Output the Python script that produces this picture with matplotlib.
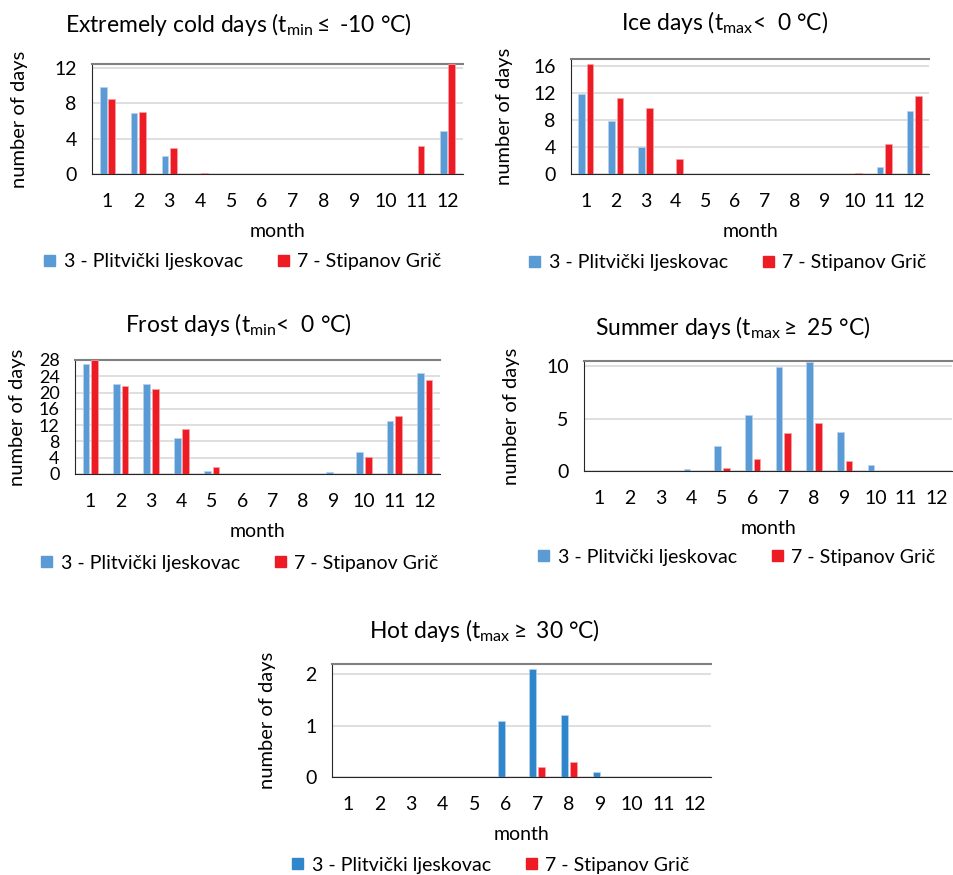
import matplotlib
matplotlib.use("Agg")
import matplotlib.pyplot as plt
import numpy as np

plt.rcParams['font.family'] = ['Lato', 'DejaVu Sans']
plt.rcParams['mathtext.fontset'] = 'custom'
plt.rcParams['mathtext.rm'] = 'Lato'
plt.rcParams['mathtext.it'] = 'Lato:italic'

months = list(range(1, 13))
station_a = "3 - Plitvički ljeskovac"
station_b = "7 - Stipanov Grič"

cold_plit = [9.8, 6.9, 2.0, 0, 0, 0, 0, 0, 0, 0, 0.05, 4.9]
cold_stip = [8.5, 7.0, 2.9, 0.1, 0, 0, 0, 0, 0, 0, 3.2, 12.4]
ice_plit = [11.9, 7.8, 4.0, 0, 0, 0, 0, 0, 0, 0, 1.1, 9.3]
ice_stip = [16.3, 11.2, 9.8, 2.2, 0, 0, 0, 0, 0, 0.2, 4.5, 11.6]
frost_plit = [27.0, 22.1, 22.0, 8.9, 0.8, 0, 0, 0, 0.4, 5.5, 13.0, 24.8]
frost_stip = [28.0, 21.7, 21.0, 11.1, 1.7, 0, 0, 0, 0, 4.2, 14.3, 23.2]
summer_plit = [0, 0, 0, 0.15, 2.4, 5.3, 9.9, 10.4, 3.7, 0.55, 0, 0]
summer_stip = [0, 0, 0, 0, 0.25, 1.1, 3.6, 4.6, 1.0, 0, 0, 0]
hot_plit = [0, 0, 0, 0, 0, 1.1, 2.1, 1.2, 0.1, 0, 0, 0]
hot_stip = [0, 0, 0, 0, 0, 0, 0.2, 0.3, 0, 0, 0, 0]

BLUE = '#5B9BD5'
BLUE_HOT = '#2F86CA'
RED = '#ED1C24'

W, H = 954, 875
fig = plt.figure(figsize=(W / 100, H / 100), dpi=100)


def px_axes(left, right, top, bottom):
    return fig.add_axes([left / W, 1 - bottom / H, (right - left) / W, (bottom - top) / H])


def panel(box, plit, stip, yticks, ymax, title, title_xy, ylab_x, legend_xy,
          blue=BLUE, xmax=12.5, ysize=14):
    ax = px_axes(*box)
    x = np.array(months)
    ax.bar(x - 0.14, plit, width=0.22, color=blue, edgecolor='#BBD3EE', linewidth=0.5, zorder=3)
    ax.bar(x + 0.14, stip, width=0.22, color=RED, edgecolor='#F6A5A8', linewidth=0.5, zorder=3)
    ax.set_xlim(0.5, xmax)
    ax.set_ylim(0, ymax)
    ax.set_yticks(yticks)
    ax.set_xticks(months)
    ax.tick_params(length=0, labelsize=14)
    ax.tick_params(axis='x', pad=14)
    ax.tick_params(axis='y', pad=11, labelsize=ysize)
    ax.yaxis.grid(True, color='#D9D9D9', linewidth=1.2, zorder=0)
    ax.set_axisbelow(True)
    ax.spines['right'].set_visible(False)
    ax.spines['top'].set_color('#808080')
    ax.spines['top'].set_linewidth(1.5)
    ax.spines['left'].set_color('#262626')
    ax.spines['bottom'].set_color('#262626')
    ax.set_xlabel('month', fontsize=14, labelpad=9)
    fig.text(ylab_x / W, 1 - (box[2] + box[3]) / 2 / H, 'number of days', rotation=90,
             ha='center', va='center', fontsize=14.5)
    fig.text(title_xy[0] / W, 1 - title_xy[1] / H, title, ha='center', va='center', fontsize=16.5)
    h1 = plt.Rectangle((0, 0), 1, 1, color=blue)
    h2 = plt.Rectangle((0, 0), 1, 1, color=RED)
    ax.legend([h1, h2], [station_a, station_b], ncol=2, loc='center',
              bbox_to_anchor=(legend_xy[0] / W, 1 - legend_xy[1] / H), bbox_transform=fig.transFigure,
              frameon=False, fontsize=14, handlelength=0.55, handleheight=0.55,
              handletextpad=0.45, columnspacing=1.8)
    return ax


panel((92, 463, 64, 174), cold_plit, cold_stip, [0, 4, 8, 12], 12.45,
      r'Extremely cold days (t$_{\mathrm{min}}$$\leq$ -10 °C)', (238, 25), 20, (243, 262))
panel((571, 929, 59, 174), ice_plit, ice_stip, [0, 4, 8, 12, 16], 17,
      r'Ice days (t$_{\mathrm{max}}$<  0 °C)', (725, 22), 505, (728, 263))
panel((75, 440, 360, 474), frost_plit, frost_stip, list(range(0, 29, 4)), 28,
      r'Frost days (t$_{\mathrm{min}}$<  0 °C)', (238, 325), 18, (240, 563), ysize=13)
panel((584, 952, 361, 471), summer_plit, summer_stip, [0, 5, 10], 10.5,
      r'Summer days (t$_{\mathrm{max}}$$\geq$ 25 °C)', (733, 328), 512, (737, 557))
panel((332, 711, 664, 777), hot_plit, hot_stip, [0, 1, 2], 2.2,
      r'Hot days (t$_{\mathrm{max}}$$\geq$ 30 °C)', (484, 630), 268, (491, 865), blue=BLUE_HOT)

fig.savefig('out.png', dpi=100)
